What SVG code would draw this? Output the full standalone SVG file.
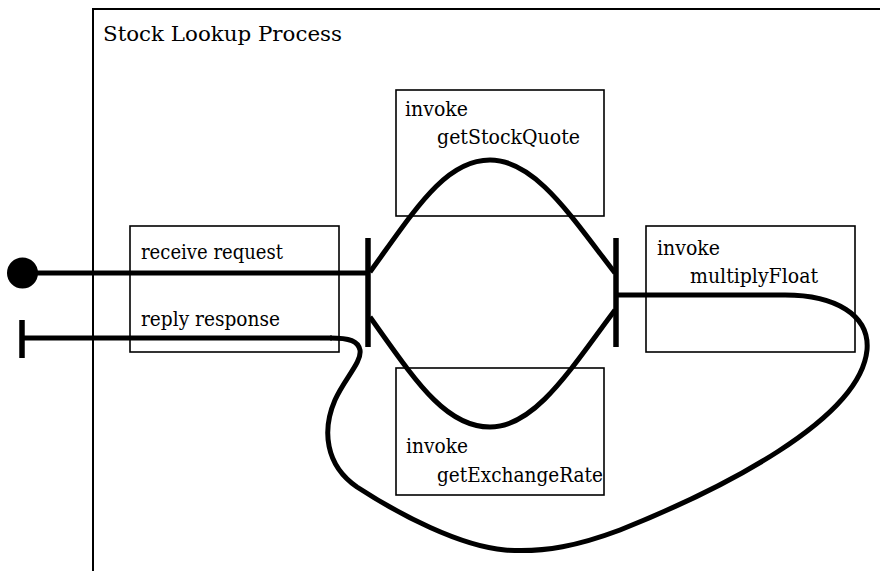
<svg xmlns="http://www.w3.org/2000/svg" width="880" height="571" viewBox="0 0 880 571">
<style>
.box{fill:none;stroke:#000;stroke-width:1.6}
.frame{fill:none;stroke:#000;stroke-width:2}
.flow{fill:none;stroke:#000;stroke-width:5;stroke-linecap:butt;stroke-linejoin:round}
.bar{stroke:#000;stroke-width:5.5}
</style>
<rect width="880" height="571" fill="#fff"/>
<g font-family="DejaVu Serif, serif" font-size="21" fill="#000">
<g id="process">
<path class="frame" d="M93,580 V9 H885"/>
<text x="103" y="41" textLength="239" lengthAdjust="spacingAndGlyphs">Stock Lookup Process</text>
</g>
<g id="receive-reply">
<rect class="box" x="130" y="226" width="209" height="126"/>
<text x="141" y="259" textLength="142" lengthAdjust="spacingAndGlyphs">receive request</text>
<text x="141" y="326" textLength="139" lengthAdjust="spacingAndGlyphs">reply response</text>
</g>
<g id="getStockQuote">
<rect class="box" x="396" y="90" width="208" height="126"/>
<text x="405" y="116" textLength="63" lengthAdjust="spacingAndGlyphs">invoke</text>
<text x="437" y="144" textLength="143" lengthAdjust="spacingAndGlyphs">getStockQuote</text>
</g>
<g id="getExchangeRate">
<rect class="box" x="396" y="368" width="208" height="127"/>
<text x="406" y="453" textLength="62" lengthAdjust="spacingAndGlyphs">invoke</text>
<text x="437" y="482" textLength="166" lengthAdjust="spacingAndGlyphs">getExchangeRate</text>
</g>
<g id="multiplyFloat">
<rect class="box" x="646" y="226" width="209" height="126"/>
<text x="657" y="255" textLength="63" lengthAdjust="spacingAndGlyphs">invoke</text>
<text x="690" y="283" textLength="128" lengthAdjust="spacingAndGlyphs">multiplyFloat</text>
</g>
</g>
<g id="start">
<circle cx="22.5" cy="273" r="15.5" fill="#000"/>
</g>
<g id="end">
<line class="bar" x1="22" y1="320" x2="22" y2="358"/>
</g>
<g id="fork">
<line class="bar" x1="368" y1="238" x2="368" y2="347"/>
</g>
<g id="join">
<line class="bar" x1="616" y1="238" x2="616" y2="347"/>
</g>
<g id="connectors">
<path class="flow" d="M22,273 H368"/>
<path class="flow" d="M370,272 C415,210 445,160 490,160 C535,160 570,215 615,273"/>
<path class="flow" d="M370,317 C415,380 445,427 490,427 C535,427 570,370 615,310"/>
<path class="flow" d="M617,295 H785 C835,295 870,315 867,350 C860,420 720,490 620,530 C580,545 545,553 505,550 C460,546 400,515 357,487 C325,465 322,430 335,400 C345,378 362,362 360,350 C358,341 350,338 330,338"/>
<path class="flow" d="M22,338 H332"/>
</g>
</svg>
